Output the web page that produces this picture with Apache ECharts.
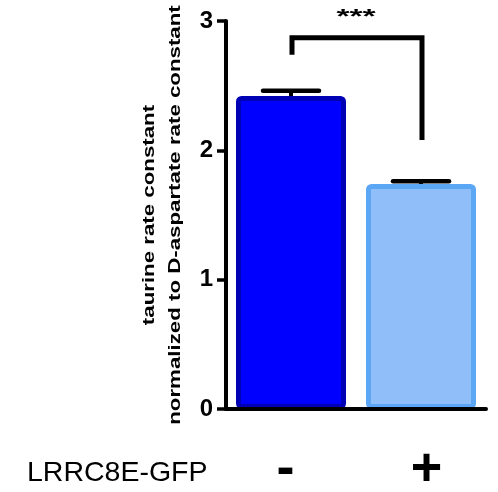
<!DOCTYPE html>
<html>
<head>
<meta charset="utf-8">
<script src="https://cdn.jsdelivr.net/npm/echarts@6/dist/echarts.min.js"></script>
<style>html,body{margin:0;padding:0;background:#fff}#c{width:498px;height:492px}</style>
</head>
<body>
<div id="c"></div>
<script>
const categories = ['-', '+'];
const means = [2.42, 1.74];
const errors = [0.04, 0.02];
const fillColors = ['#0000FF', '#90BEF8'];
const borderColors = ['#0000B4', '#5CA6F6'];
const yTicks = [0, 1, 2, 3];
const groupLabel = 'LRRC8E-GFP';
const yTitle = ['taurine rate constant', 'normalized to D-aspartate rate constant'];
// significance bracket: [left category, right category, left drop bottom, top, right drop bottom]
const sigBracket = [0, 1, 2.74, 2.87, 2.08];
const sigLabel = '***';
const sigLabelValue = 3.03;

const FONT = 'Liberation Sans, Arial, sans-serif';
const chart = echarts.init(document.getElementById('c'), null, {renderer: 'canvas'});

chart.setOption({
  animation: false,
  backgroundColor: '#fff',
  title: {
    text: groupLabel,
    left: 22, top: 454,
    textStyle: {fontFamily: FONT, fontSize: 28.5, fontWeight: 'normal', color: '#000'}
  },
  graphic: [
    {
      type: 'text', x: 149, y: 215, rotation: Math.PI / 2, scaleX: 1.31,
      style: {text: yTitle[0], fontFamily: FONT, fontSize: 17, fontWeight: 'bold', fill: '#000',
              align: 'center', verticalAlign: 'middle'}
    },
    {
      type: 'text', x: 175, y: 215, rotation: Math.PI / 2, scaleX: 1.31,
      style: {text: yTitle[1], fontFamily: FONT, fontSize: 17, fontWeight: 'bold', fill: '#000',
              align: 'center', verticalAlign: 'middle'}
    }
  ],
  grid: {left: 226, right: 12, top: 21, bottom: 83, containLabel: false, outerBoundsMode: 'none'},
  xAxis: {
    type: 'category',
    data: categories,
    z: 10,
    axisLine: {lineStyle: {color: '#000', width: 4}},
    axisTick: {show: false},
    axisLabel: {
      margin: 34,
      formatter: function (v, i) { return i === 0 ? '{a|' + v + '}' : '{b|' + v + '}'; },
      rich: {
        a: {fontFamily: FONT, fontSize: 54, fontWeight: 'bold', color: '#000', padding: [0, 11, 0, 0]},
        b: {fontFamily: FONT, fontSize: 54, fontWeight: 'bold', color: '#000', padding: [0, 0, 0, 11]}
      }
    }
  },
  yAxis: {
    type: 'value',
    min: yTicks[0], max: yTicks[yTicks.length - 1], interval: 1,
    z: 10,
    splitLine: {show: false},
    axisLine: {show: true, lineStyle: {color: '#000', width: 4}},
    axisTick: {show: true, length: 9, lineStyle: {color: '#000', width: 3.5}},
    axisLabel: {fontFamily: FONT, fontSize: 24, fontWeight: 'bold', color: '#000', margin: 13}
  },
  series: [
    {
      type: 'bar',
      barWidth: 110,
      data: means.map((v, i) => ({
        value: v,
        itemStyle: {color: fillColors[i], borderColor: borderColors[i], borderWidth: 5, borderRadius: 3}
      }))
    },
    {
      type: 'custom',
      clip: false,
      z: 5,
      data: means.map((v, i) => [i, v, v + errors[i]]),
      renderItem: function (params, api) {
        const base = api.coord([api.value(0), api.value(1)]);
        const top = api.coord([api.value(0), api.value(2)]);
        const half = 28;
        return {
          type: 'group',
          children: [
            {type: 'line', shape: {x1: top[0], y1: base[1], x2: top[0], y2: top[1]},
             style: {stroke: '#000', lineWidth: 4}},
            {type: 'line', shape: {x1: top[0] - half, y1: top[1], x2: top[0] + half, y2: top[1]},
             style: {stroke: '#000', lineWidth: 4.5, lineCap: 'round'}}
          ]
        };
      }
    },
    {
      type: 'custom',
      clip: false,
      z: 5,
      data: [sigBracket],
      renderItem: function (params, api) {
        const l = api.coord([api.value(0), api.value(2)]);
        const t = api.coord([api.value(0), api.value(3)]);
        const r = api.coord([api.value(1), api.value(3)]);
        const rb = api.coord([api.value(1), api.value(4)]);
        const sy = api.coord([api.value(0), sigLabelValue])[1];
        const sx = (l[0] + r[0]) / 2;
        return {
          type: 'group',
          children: [
            {type: 'polyline', shape: {points: [[l[0] + 1, l[1]], [t[0] + 1, t[1]], [r[0] + 1, r[1]], [rb[0] + 1, rb[1]]]},
             style: {stroke: '#000', lineWidth: 5, fill: null, lineJoin: 'miter'}},
            {type: 'text', x: sx, y: sy, scaleX: 1.6,
             style: {text: sigLabel, fontFamily: FONT, fontSize: 21, fontWeight: 'bold', fill: '#000',
                     align: 'center', verticalAlign: 'middle'}}
          ]
        };
      }
    }
  ]
});
</script>
</body>
</html>
